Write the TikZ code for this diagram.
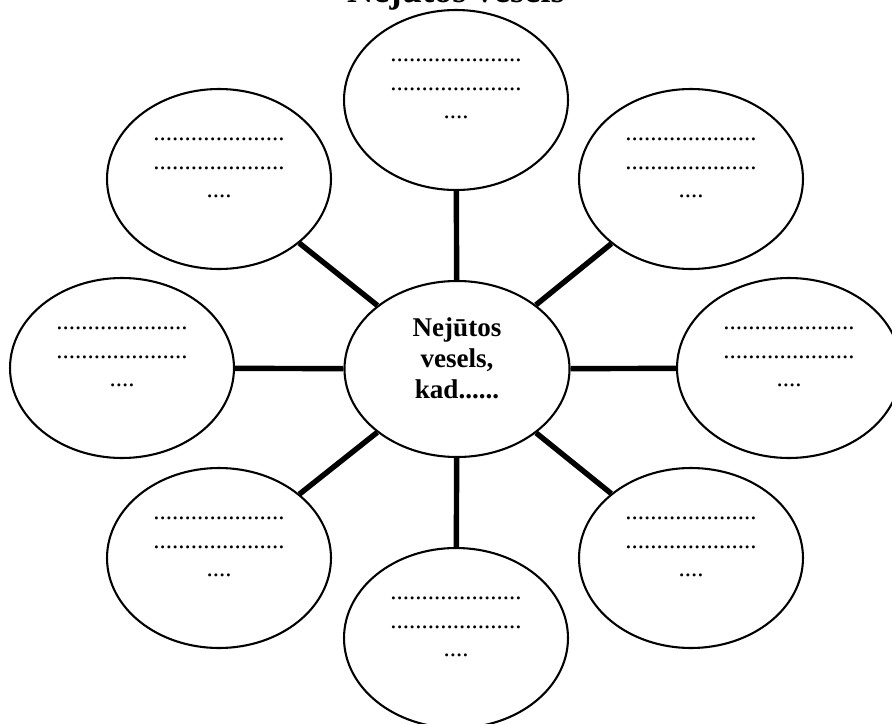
\documentclass[tikz,border=0pt]{standalone}
\usepackage{fontspec}
\setmainfont{Liberation Serif}
\usepackage{tikz}
\usetikzlibrary{shapes.geometric}

\newcommand{\blankrows}{\strut.....................\\\strut.....................\\\strut....}

\begin{document}
\begin{tikzpicture}[x=0.48pt,y=-0.48pt,
  oval/.style={ellipse,draw,line width=1pt,inner sep=0pt,
    minimum width=107.5pt,minimum height=86.4pt},
  bubble/.style={oval,label={[align=center,font=\fontsize{12}{13.8}\selectfont,yshift=7.5pt]center:\blankrows}},
  spoke/.style={line width=2.6pt}]
\useasboundingbox (0,0) rectangle (892,724);
\node[anchor=base,font=\bfseries\fontsize{17.5}{20}\selectfont] (title) at (456,2) {Nejūtos vesels};
% centre
\node[oval,minimum width=108pt,minimum height=84.5pt,
  label={[align=center,font=\bfseries\fontsize{13}{15}\selectfont,yshift=3.8pt]center:\strut Nejūtos\\\strut vesels,\\\strut kad......}] (hub) at (457,369) {};
% outer bubbles
\node[bubble] (n)  at (456,100) {};
\node[bubble] (ne) at (691,179) {};
\node[bubble] (e)  at (789,368) {};
\node[bubble] (se) at (691,558) {};
\node[bubble] (s)  at (456,638) {};
\node[bubble] (sw) at (219,558) {};
\node[bubble] (w)  at (122,368) {};
\node[bubble] (nw) at (219,179) {};
\foreach \b in {n,ne,e,se,s,sw,w,nw}
  \draw[spoke] (hub) -- (\b);
\end{tikzpicture}
\end{document}
